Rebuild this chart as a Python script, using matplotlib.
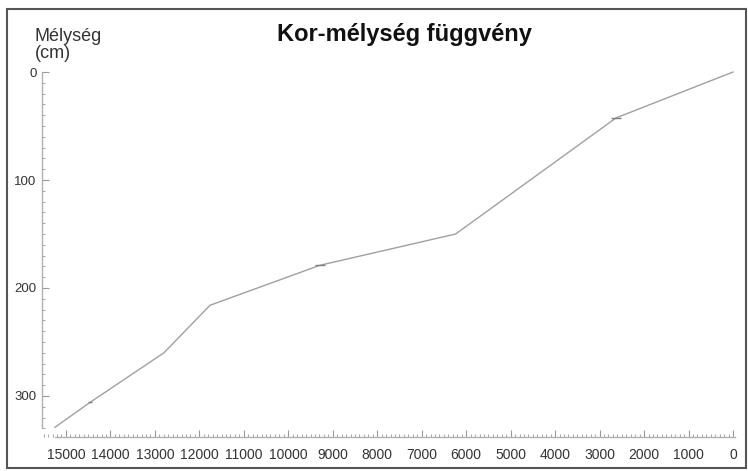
import numpy as np
import matplotlib.pyplot as plt
from matplotlib.patches import Rectangle
from matplotlib.ticker import MultipleLocator

plt.rcParams['font.family'] = ['Liberation Sans', 'DejaVu Sans']

# ---------- 数据 ----------
age = [15246, 14460, 12795, 11760, 9290, 6236, 2630, 0]      # év (BP)
depth = [329, 306, 260, 216, 179, 150, 42.5, 0]            # cm
err_age = [0, 40, 0, 0, 110, 0, 110, 0]

W, H = 748, 471
fig = plt.figure(figsize=(W / 100, H / 100), dpi=100)

# keret
fig.patches.append(Rectangle((7 / W, 3 / H), 739 / W, 459 / H, transform=fig.transFigure,
                             fill=False, edgecolor='#555555', linewidth=1.5))

ax = fig.add_axes([42 / W, 34 / H, 693 / W, 372 / H])
ax.plot(age, depth, color='#a0a0a0', linewidth=1.0)
ax.errorbar(age, depth, xerr=err_age, fmt='none', ecolor='#808080', elinewidth=1.0, capsize=0)

ax.set_xlim(15538, -45)
ax.set_ylim(338, -6.5)

for s in ['top', 'right']:
    ax.spines[s].set_visible(False)
ax.spines['left'].set_bounds(330, 0)
ax.spines['bottom'].set_bounds(15246, -40)
for s in ['left', 'bottom']:
    ax.spines[s].set_color('#b0b0b0')
    ax.spines[s].set_linewidth(1.0)

ax.xaxis.set_major_locator(MultipleLocator(1000))
ax.xaxis.set_minor_locator(MultipleLocator(100))
ax.yaxis.set_major_locator(MultipleLocator(100))
ax.yaxis.set_minor_locator(MultipleLocator(10))
ax.tick_params(which='both', direction='in', color='#999999', labelcolor='#333333')
ax.tick_params(which='major', length=5, width=0.8)
ax.tick_params(which='minor', length=2.5, width=0.6)
ax.tick_params(axis='x', which='major', labelsize=10, pad=8)
ax.tick_params(axis='y', which='major', labelsize=9.5, pad=4)
ax.set_xticks(range(0, 15001, 1000))
ax.set_yticks(range(0, 301, 100))

fig.text(404 / W, 1 - 35 / H, 'Kor-mélység függvény', ha='center', va='center',
         fontsize=17, fontweight='bold', color='#111111')
fig.text(35 / W, 1 - 45 / H, 'Mélység\n(cm)', ha='left', va='center',
         fontsize=13, color='#333333', linespacing=1.05)

fig.savefig('out.png', dpi=100)
